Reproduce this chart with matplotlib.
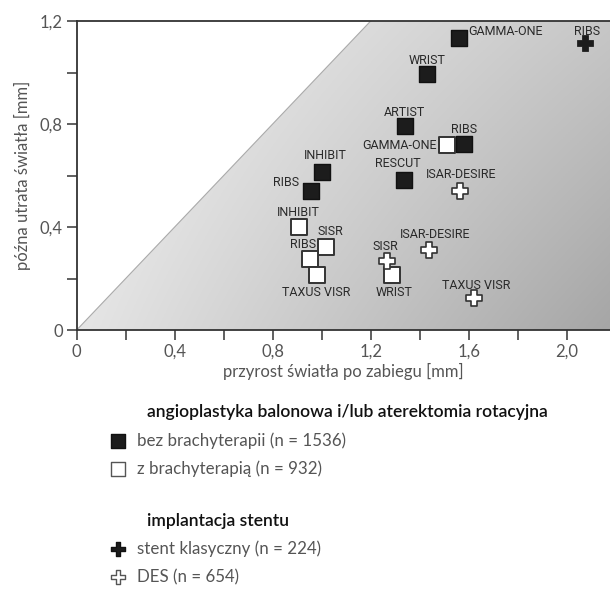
import numpy as np
import matplotlib.pyplot as plt
from matplotlib.patches import Polygon

plt.rcParams['font.family'] = ['Lato', 'DejaVu Sans']
narrow = ['Roboto', 'DejaVu Sans']

# bez brachyterapii (black squares)
bk_x = [1.56, 1.43, 1.34, 1.58, 1.337, 1.00, 0.958]
bk_y = [1.134, 0.994, 0.793, 0.721, 0.583, 0.612, 0.540]
bk_lab = ['GAMMA-ONE', 'WRIST', 'ARTIST', 'RIBS', 'RESCUT', 'INHIBIT', 'RIBS']
bk_off = [(9, 7, 'left'), (0, 14, 'center'), (0, 13, 'center'), (0, 15, 'center'),
          (-6, 16, 'center'), (4, 17, 'center'), (-12, 8, 'right')]

# z brachyterapia (white squares)
wh_x = [1.51, 0.909, 1.016, 0.952, 0.980, 1.286]
wh_y = [0.718, 0.401, 0.324, 0.276, 0.215, 0.214]
wh_lab = ['GAMMA-ONE', 'INHIBIT', 'SISR', 'RIBS', 'TAXUS VISR', 'WRIST']
wh_off = [(-10, 0, 'right'), (-1, 14, 'center'), (5, 15, 'center'), (-7, 14, 'center'),
          (-1, -18, 'center'), (2, -18, 'center')]

# stent klasyczny (black cross)
sk_x = [2.075]
sk_y = [1.113]
sk_lab = ['RIBS']
sk_off = [(2, 12, 'center')]

# DES (white crosses)
des_x = [1.565, 1.438, 1.265, 1.623]
des_y = [0.541, 0.311, 0.268, 0.123]
des_lab = ['ISAR-DESIRE', 'ISAR-DESIRE', 'SISR', 'TAXUS VISR']
des_off = [(1, 16, 'center'), (6, 15, 'center'), (-1, 15, 'center'), (2, 13, 'center')]

xticks = [0, 0.4, 0.8, 1.2, 1.6, 2.0]
yticks = [0, 0.4, 0.8, 1.2]

fig = plt.figure(figsize=(6.1, 5.94), dpi=100)
ax = fig.add_axes([0.1257, 0.4444, 0.8743, 0.5202])
xmax, ymax = 2.177, 1.2
ax.set_xlim(0, xmax)
ax.set_ylim(0, ymax)

# gradient region below y = x
gx, gd = np.meshgrid(np.linspace(0, 1, 300), np.linspace(0, 1, 300))
lev = 0.958 - 0.178 * gx - 0.058 * gd - 0.072 * gx * gd
rgb = np.dstack([lev, lev, lev])
img = ax.imshow(rgb, extent=[0, xmax, 0, ymax], origin='upper', aspect='auto', zorder=0)
tri = Polygon([[0, 0], [ymax, ymax], [xmax, ymax], [xmax, 0]], closed=True,
              facecolor='none', edgecolor='none', transform=ax.transData)
ax.add_patch(tri)
img.set_clip_path(tri)
ax.plot([0, ymax], [0, ymax], color='#aaaaaa', lw=0.8, zorder=1)

ms = 11
ax.scatter(bk_x, bk_y, marker='s', s=ms**2, c='#1c1c1c', edgecolors='#111111', linewidths=1, zorder=3)
ax.scatter(wh_x, wh_y, marker='s', s=ms**2, c='white', edgecolors='#333333', linewidths=1.4, zorder=3)
ax.scatter(sk_x, sk_y, marker='P', s=11**2, c='#1c1c1c', edgecolors='#111111', linewidths=0.5, zorder=3)
ax.scatter(des_x, des_y, marker='P', s=11**2, c='white', edgecolors='#333333', linewidths=1.2, zorder=3)

for xs, ys, labs, offs in [(bk_x, bk_y, bk_lab, bk_off), (wh_x, wh_y, wh_lab, wh_off),
                           (sk_x, sk_y, sk_lab, sk_off), (des_x, des_y, des_lab, des_off)]:
    for x, y, t, (dx, dy, ha) in zip(xs, ys, labs, offs):
        ax.annotate(t, (x, y), xytext=(dx, dy), textcoords='offset pixels',
                    ha=ha, va='center', fontsize=9, color='#2a2a2a',
                    family=narrow, zorder=4)

ax.set_xticks(xticks)
ax.set_xticklabels([('%.1f' % v).replace('.', ',') if v else '0' for v in xticks])
ax.set_xticks(np.arange(0.2, xmax, 0.4), minor=True)
ax.set_yticks(yticks)
ax.set_yticklabels([('%.1f' % v).replace('.', ',') if v else '0' for v in yticks])
ax.set_yticks([0.2, 0.6, 1.0], minor=True)
ax.tick_params(which='both', direction='out', length=7, width=1.2, color='#444444',
               labelsize=12, labelcolor='#555555', pad=3)
for s in ['left', 'bottom', 'top']:
    ax.spines[s].set_color('#333333')
    ax.spines[s].set_linewidth(1.3)
ax.spines['right'].set_visible(False)
ax.set_xlabel('przyrost światła po zabiegu [mm]', fontsize=12, color='#555555', labelpad=2)
ax.set_ylabel('późna utrata światła [mm]', fontsize=12, color='#555555', labelpad=6)

# legend
lg = fig.add_axes([0, 0, 1, 1], zorder=-1)
lg.set_xlim(0, 610)
lg.set_ylim(594, 0)
lg.axis('off')
lg_titles = ['angioplastyka balonowa i/lub aterektomia rotacyjna', 'implantacja stentu']
lg_title_y = [412, 521]
lg_items = ['bez brachyterapii (n = 1536)', 'z brachyterapią (n = 932)',
            'stent klasyczny (n = 224)', 'DES (n = 654)']
lg_item_y = [441, 469, 549, 577]
lg_mk = [('s', '#1c1c1c', '#111111'), ('s', 'white', '#555555'),
         ('P', '#1c1c1c', '#111111'), ('P', 'white', '#555555')]
for t, y in zip(lg_titles, lg_title_y):
    lg.text(147, y, t, fontsize=12.6, color='#111111', weight='semibold', va='center')
for t, y, (m, fc, ec) in zip(lg_items, lg_item_y, lg_mk):
    lg.scatter([118], [y], marker=m, s=10**2, c=fc, edgecolors=ec, linewidths=1)
    lg.text(137, y, t, fontsize=12.2, color='#555555', va='center')

fig.savefig('out.png', dpi=100)
